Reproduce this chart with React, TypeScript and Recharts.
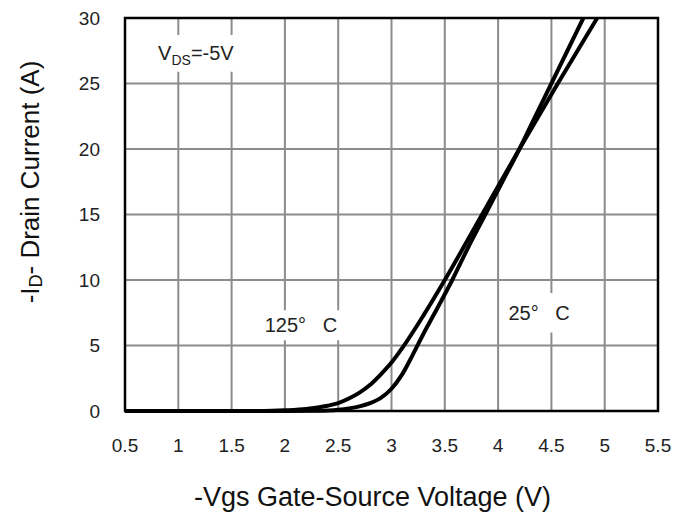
import {
  CartesianGrid,
  Line,
  LineChart,
  ReferenceArea,
  XAxis,
  YAxis,
} from "recharts";

// -Vgs (V) vs -Id (A) transfer curves at Vds = -5V
const vgs25 = [0.5, 2.0, 2.3, 2.5, 2.6, 2.7, 2.8, 2.9, 3.0, 3.1, 3.2, 3.3, 3.4, 3.57, 3.72, 3.88, 4.04, 4.2, 4.35, 4.5, 4.65, 4.8];
const id25 = [0, 0, 0.02, 0.1, 0.2, 0.35, 0.6, 1.0, 1.7, 2.8, 4.3, 5.9, 7.4, 10, 12.5, 15, 17.5, 20, 22.5, 25, 27.5, 30];

const vgs125 = [0.5, 1.8, 2.0, 2.2, 2.4, 2.5, 2.6, 2.7, 2.8, 2.9, 3.0, 3.1, 3.3, 3.5, 3.85, 4.2, 4.56, 4.93];
const id125 = [0, 0, 0.05, 0.15, 0.4, 0.6, 0.95, 1.4, 2.0, 2.8, 3.7, 4.8, 7.3, 10, 15, 20, 25, 30];

const xTicks = [0.5, 1, 1.5, 2, 2.5, 3, 3.5, 4, 4.5, 5, 5.5];
const yTicks = [0, 5, 10, 15, 20, 25, 30];

const curve25 = vgs25.map((v, i) => ({ v, id: id25[i] }));
const curve125 = vgs125.map((v, i) => ({ v, id: id125[i] }));

const FONT = "'Liberation Sans', Arial, sans-serif";

const boxLabel = (text: React.ReactNode) => (props: any) => {
  const { x, y, width, height } = props.viewBox;
  return (
    <text
      x={x + width / 2}
      y={y + height / 2 + 7}
      textAnchor="middle"
      fontFamily={FONT}
      fontSize={20}
      fill="#222"
      style={{ whiteSpace: "pre" }}
    >
      {text}
    </text>
  );
};

const App = () => {
  return (
    <div style={{ position: "absolute", left: 0, top: 0, background: "#fff" }}>
      <LineChart
        width={675}
        height={522}
        margin={{ top: 18, right: 17, left: 85, bottom: 71 }}
      >
        <CartesianGrid stroke="#8c8c8c" strokeWidth={2} />
        <XAxis
          type="number"
          dataKey="v"
          domain={[0.5, 5.5]}
          ticks={xTicks}
          height={40}
          tickSize={0}
          tickMargin={28}
          axisLine={false}
          tick={{ fontSize: 19, fill: "#222", fontFamily: FONT }}
          label={{
            value: "-Vgs Gate-Source Voltage (V)",
            position: "insideBottom",
            dy: 60,
            dx: -19,
            style: { fontSize: 27, fill: "#111", fontFamily: FONT },
          }}
        />
        <YAxis
          type="number"
          domain={[0, 30]}
          ticks={yTicks}
          width={40}
          tickSize={0}
          tickMargin={25}
          axisLine={false}
          tick={{ fontSize: 19, fill: "#222", fontFamily: FONT }}
          label={() => (
            <text
              x={30}
              y={182}
              transform="rotate(-90 30 182)"
              textAnchor="middle"
              dominantBaseline="central"
              fontFamily={FONT}
              fontSize={26}
              fill="#111"
            >
              -I
              <tspan fontSize={18} dy={6}>D</tspan>
              <tspan dy={-6}>- Drain Current (A)</tspan>
            </text>
          )}
        />
        <ReferenceArea
          x1={0.73}
          x2={1.6}
          y1={25.9}
          y2={28.7}
          fill="#fff"
          fillOpacity={1}
          stroke="none"
          label={boxLabel(
            <>
              V<tspan fontSize={14} dy={5}>DS</tspan>
              <tspan dy={-5}>=-5V</tspan>
            </>
          )}
        />
        <ReferenceArea
          x1={1.75}
          x2={2.55}
          y1={5.4}
          y2={7.7}
          fill="#fff"
          fillOpacity={1}
          stroke="none"
          label={boxLabel("125°   C")}
        />
        <ReferenceArea
          x1={4.05}
          x2={4.72}
          y1={6.0}
          y2={9.0}
          fill="#fff"
          fillOpacity={1}
          stroke="none"
          label={boxLabel("25°   C")}
        />
        <Line
          data={curve125}
          dataKey="id"
          type="monotone"
          stroke="#000"
          strokeWidth={4}
          dot={false}
          isAnimationActive={false}
        />
        <Line
          data={curve25}
          dataKey="id"
          type="monotone"
          stroke="#000"
          strokeWidth={4}
          dot={false}
          isAnimationActive={false}
        />
        <ReferenceArea
          x1={0.5}
          x2={5.5}
          y1={0}
          y2={30}
          fill="none"
          stroke="#000"
          strokeWidth={2.5}
        />
      </LineChart>
    </div>
  );
};

export default App;
